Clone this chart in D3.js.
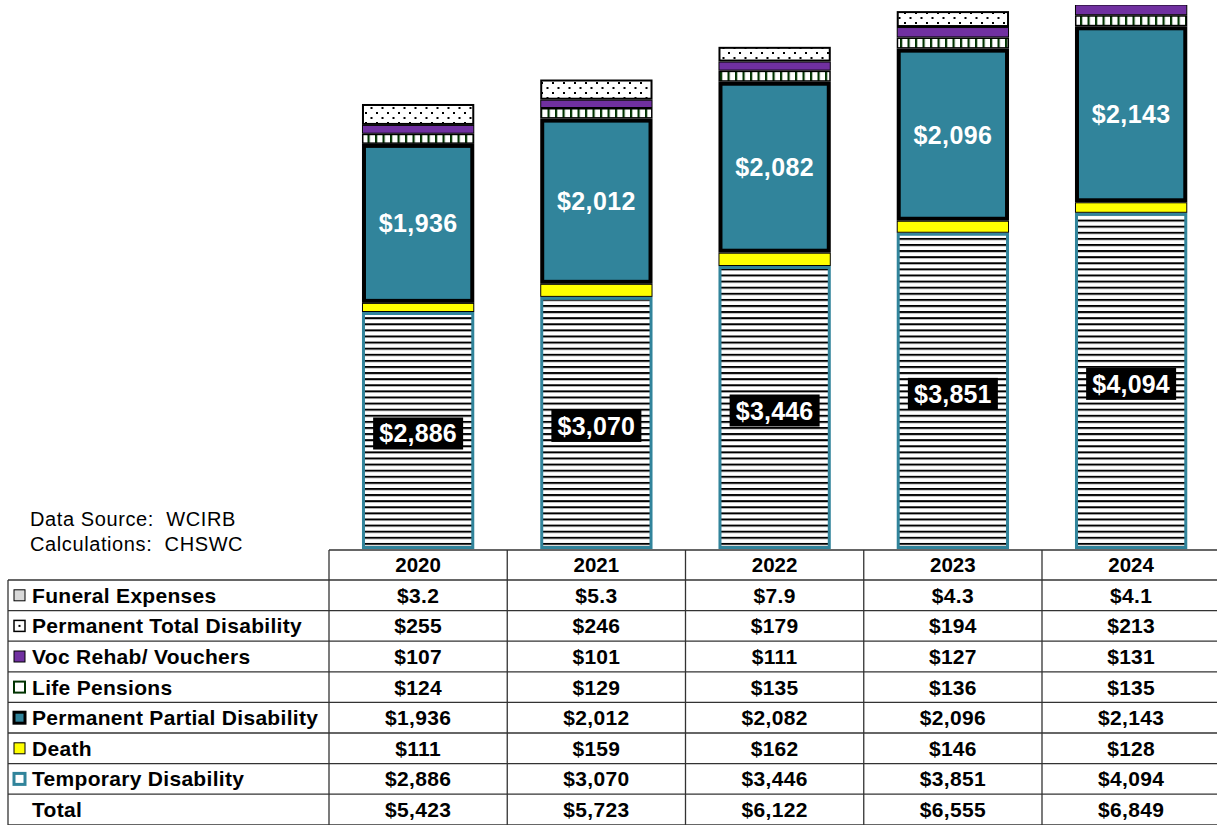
<!DOCTYPE html>
<html><head><meta charset="utf-8">
<script src="https://cdn.jsdelivr.net/npm/d3@7/dist/d3.min.js"></script>
<style>body{margin:0;background:#fff;} svg{display:block;font-family:"Liberation Sans",Arial,sans-serif;} text{white-space:pre;}</style>
</head><body>
<script>
const years = ["2020","2021","2022","2023","2024"];
const temporaryDisability = [2886, 3070, 3446, 3851, 4094];
const death = [111, 159, 162, 146, 128];
const permanentPartial = [1936, 2012, 2082, 2096, 2143];
const lifePensions = [124, 129, 135, 136, 135];
const vocRehab = [107, 101, 111, 127, 131];
const permanentTotal = [255, 246, 179, 194, 213];
const funeral = [3.2, 5.3, 7.9, 4.3, 4.1];
const totals = [5423, 5723, 6122, 6555, 6849];

const W = 1217, H = 825;
const svg = d3.select("body").append("svg").attr("width", W).attr("height", H);
const defs = svg.append("defs");

// patterns
const pH = defs.append("pattern").attr("id","pH").attr("patternUnits","userSpaceOnUse").attr("width",8).attr("height",6.1);
pH.append("rect").attr("width",8).attr("height",6.1).attr("fill","#fff");
pH.append("rect").attr("y",0).attr("width",8).attr("height",2).attr("fill","#000");
const pV = defs.append("pattern").attr("id","pV").attr("patternUnits","userSpaceOnUse").attr("width",7.5).attr("height",10);
pV.append("rect").attr("width",7.5).attr("height",10).attr("fill","#fff");
pV.append("rect").attr("x",0).attr("width",2.2).attr("height",10).attr("fill","#003300");
const pD = defs.append("pattern").attr("id","pD").attr("patternUnits","userSpaceOnUse").attr("width",11).attr("height",10);
pD.append("rect").attr("width",11).attr("height",10).attr("fill","#fff");
pD.append("rect").attr("x",2).attr("y",2).attr("width",2).attr("height",2).attr("fill","#000");
pD.append("rect").attr("x",7.5).attr("y",7).attr("width",2).attr("height",2).attr("fill","#000");

const teal = "#31849B";
const series = [
  {key:"Temporary Disability", values: temporaryDisability, fill:"url(#pH)", stroke:teal, sw:3},
  {key:"Death", values: death, fill:"#FFFF00", stroke:"#000", sw:1},
  {key:"Permanent Partial Disability", values: permanentPartial, fill:teal, stroke:"#000", sw:4},
  {key:"Life Pensions", values: lifePensions, fill:"url(#pV)", stroke:"#000", sw:1.5},
  {key:"Voc Rehab/ Vouchers", values: vocRehab, fill:"#7030A0", stroke:"#000", sw:1},
  {key:"Permanent Total Disability", values: permanentTotal, fill:"url(#pD)", stroke:"#000", sw:2},
  {key:"Funeral Expenses", values: funeral, fill:"#D9D9D9", stroke:"#000", sw:0.5}
];

const tableLeft = 329, colW = 178.25;
const x = d3.scaleBand().domain(years).range([tableLeft, tableLeft + colW*5]).paddingInner(0.37).paddingOuter(0.185);
const plotTop = 7, plotBottom = 549;
const y = d3.scaleLinear().domain([0, 6600]).range([plotBottom, plotTop]);

defs.append("clipPath").attr("id","plotClip").append("rect").attr("x",0).attr("y",plotTop-2).attr("width",W).attr("height",plotBottom-plotTop+6);

const rows = years.map((yr,i)=>{ const o={year:yr}; series.forEach(s=>o[s.key]=s.values[i]); return o;});
const stack = d3.stack().keys(series.map(s=>s.key))(rows);

const g = svg.append("g").attr("clip-path","url(#plotClip)");
stack.forEach((layer, li)=>{
  const s = series[li];
  if (s.key === "Funeral Expenses") return;
  g.append("g").selectAll("rect").data(layer).join("rect")
    .attr("x", d=>x(d.data.year)+s.sw/2)
    .attr("y", d=>y(d[1])+s.sw/2)
    .attr("width", x.bandwidth()-s.sw)
    .attr("height", d=>Math.max(0, y(d[0])-y(d[1])-s.sw))
    .attr("fill", s.fill).attr("stroke", s.stroke).attr("stroke-width", s.sw);
});

// labels PPD
const ppdLayer = stack[2];
g.append("g").selectAll("text").data(ppdLayer).join("text")
  .attr("x", d=>x(d.data.year)+x.bandwidth()/2)
  .attr("y", d=>(y(d[0])+y(d[1]))/2)
  .attr("dy","0.36em").attr("text-anchor","middle")
  .attr("fill","#fff").attr("font-weight","bold").attr("font-size",25).attr("letter-spacing",0.4)
  .text(d=>"$"+d3.format(",")(d[1]-d[0]));

// labels TD with black box
const tdLayer = stack[0];
const tdG = g.append("g").selectAll("g").data(tdLayer).join("g")
  .attr("transform", d=>`translate(${x(d.data.year)+x.bandwidth()/2},${(y(d[0])+y(d[1]))/2+3})`);
tdG.append("rect").attr("x",-45).attr("y",-16).attr("width",90).attr("height",32).attr("fill","#000");
tdG.append("text").attr("dy","0.36em").attr("text-anchor","middle")
  .attr("fill","#fff").attr("font-weight","bold").attr("font-size",25).attr("letter-spacing",0.2)
  .text(d=>"$"+d3.format(",")(d[1]-d[0]));

// source text
svg.append("text").attr("x",30).attr("y",526).attr("font-size",20).attr("letter-spacing",0.6).text("Data Source:  WCIRB");
svg.append("text").attr("x",30).attr("y",551).attr("font-size",20).attr("letter-spacing",0.6).text("Calculations:  CHSWC");

// table
const tableRows = [
  {label:"Funeral Expenses", vals: funeral, fmt: d=>"$"+d3.format(".1f")(d)},
  {label:"Permanent Total Disability", vals: permanentTotal, fmt: d=>"$"+d3.format(",")(d)},
  {label:"Voc Rehab/ Vouchers", vals: vocRehab, fmt: d=>"$"+d3.format(",")(d)},
  {label:"Life Pensions", vals: lifePensions, fmt: d=>"$"+d3.format(",")(d)},
  {label:"Permanent Partial Disability", vals: permanentPartial, fmt: d=>"$"+d3.format(",")(d)},
  {label:"Death", vals: death, fmt: d=>"$"+d3.format(",")(d)},
  {label:"Temporary Disability", vals: temporaryDisability, fmt: d=>"$"+d3.format(",")(d)},
  {label:"Total", vals: totals, fmt: d=>"$"+d3.format(",")(d)}
];
const headTop = 550, rowTop = 580, rowH = 30.6, tLeft = 8;
const tg = svg.append("g");
const lineCol = "#333";
// header
tg.append("line").attr("x1",tableLeft).attr("x2",W).attr("y1",headTop).attr("y2",headTop).attr("stroke",lineCol).attr("stroke-width",1.3);
years.forEach((yr,i)=>{
  tg.append("text").attr("x",tableLeft+colW*i+colW/2).attr("y",headTop+15).attr("dy","0.36em")
    .attr("text-anchor","middle").attr("font-weight","bold").attr("font-size",20.5).text(yr);
});
// vertical lines
for (let i=0;i<=5;i++){
  const xx = tableLeft+colW*i;
  tg.append("line").attr("x1",xx).attr("x2",xx).attr("y1",headTop).attr("y2",H).attr("stroke",lineCol).attr("stroke-width",1.3);
}
tg.append("line").attr("x1",tLeft).attr("x2",tLeft).attr("y1",rowTop).attr("y2",H).attr("stroke",lineCol).attr("stroke-width",1.3);
for (let r=0;r<=tableRows.length;r++){
  const yy = rowTop + rowH*r;
  tg.append("line").attr("x1",tLeft).attr("x2",W).attr("y1",yy).attr("y2",yy).attr("stroke",lineCol).attr("stroke-width",1.3);
}
// legend icons
const icon = [
  {fill:"#D9D9D9", stroke:"#000", sw:1},
  {fill:"#fff", stroke:"#000", sw:1.5, dot:true},
  {fill:"#7030A0", stroke:"#000", sw:1},
  {fill:"#fff", stroke:"#003300", sw:2},
  {fill:teal, stroke:"#000", sw:3},
  {fill:"#FFFF00", stroke:"#000", sw:1},
  {fill:"#fff", stroke:teal, sw:3},
  null
];
tableRows.forEach((r,ri)=>{
  const cy = rowTop + rowH*ri + rowH/2;
  const ic = icon[ri];
  if (ic){
    tg.append("rect").attr("x",14).attr("y",cy-5.5).attr("width",11).attr("height",11)
      .attr("fill",ic.fill).attr("stroke",ic.stroke).attr("stroke-width",ic.sw);
    if (ic.dot) tg.append("rect").attr("x",18.5).attr("y",cy-1).attr("width",2).attr("height",2).attr("fill","#000");
  }
  tg.append("text").attr("x",32).attr("y",cy).attr("dy","0.36em").attr("font-weight","bold").attr("font-size",21).attr("letter-spacing",0.3).text(r.label);
  r.vals.forEach((v,i)=>{
    tg.append("text").attr("x",tableLeft+colW*i+colW/2).attr("y",cy).attr("dy","0.36em")
      .attr("text-anchor","middle").attr("font-weight","bold").attr("font-size",21).attr("letter-spacing",0.3).text(r.fmt(v));
  });
});
</script>
</body></html>
